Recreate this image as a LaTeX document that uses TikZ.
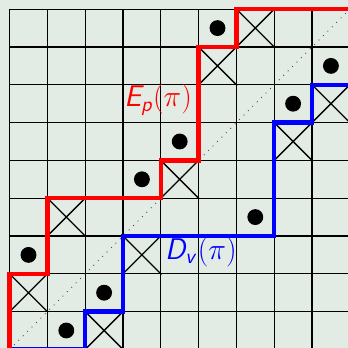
\RequirePackage{fix-cm}
\documentclass[tikz,border=0pt]{standalone}
\usepackage{amsmath}
\usepackage{tikz}
\usetikzlibrary{shapes.misc}
\definecolor{gridbg}{RGB}{227,236,228}
\DeclareMathAlphabet{\mathsfsl}{OT1}{cmss}{m}{sl}

\begin{document}
\begin{tikzpicture}[
  cell/.style={draw=black,line width=0.9pt},
  xcell/.style={cross out,draw=black,line width=1pt,minimum size=1cm,inner sep=0pt},
  pt/.style={circle,fill=black,minimum size=0.42cm,inner sep=0pt},
  epath/.style={red,line width=3.4pt},
  dpath/.style={blue,line width=3.4pt},
  lbl/.style={font=\fontsize{22.5}{26}\selectfont,inner sep=0pt}
]
\fill[gridbg] (-0.254,0.037) rectangle (8.952,9.243);
\useasboundingbox (-0.254,0.037) rectangle (8.952,9.243);

\draw[cell] (0,0) grid (9,9);
\draw[gray!60!black,line width=0.7pt,loosely dotted] (0,0) -- (9,9);

% crosses under the two paths
\foreach \c/\r [count=\i] in {0/1,1/3,4/4,5/7,6/8,2/0,3/2,7/5,8/6}
  \node[xcell] (x\i) at (\c+0.5,\r+0.5) {};

% the permutation
\foreach \c/\r [count=\i] in {0/2,1/0,2/1,3/4,4/5,5/8,6/3,7/6,8/7}
  \node[pt] (p\i) at (\c+0.5,\r+0.5) {};

\draw[dpath] (0,0) -- (2,0) -- (2,1) -- (3,1) -- (3,3) -- (7,3) -- (7,6) -- (8,6) -- (8,7) -- (9,7);
\draw[epath] (0,0) -- (0,2) -- (1,2) -- (1,4) -- (4,4) -- (4,5) -- (5,5) -- (5,8) -- (6,8) -- (6,9) -- (9,9);

\node[lbl,red,anchor=east] (ep) at (4.83,6.6) {$\mathsfsl{E}_{\mathsfsl{p}}\mathsf{(}\pi\mathsf{)}$};
\node[lbl,blue,anchor=west] (dv) at (4.11,2.58) {$\mathsfsl{D}_{\mathsfsl{v}}\mathsf{(}\pi\mathsf{)}$};
\end{tikzpicture}
\end{document}
